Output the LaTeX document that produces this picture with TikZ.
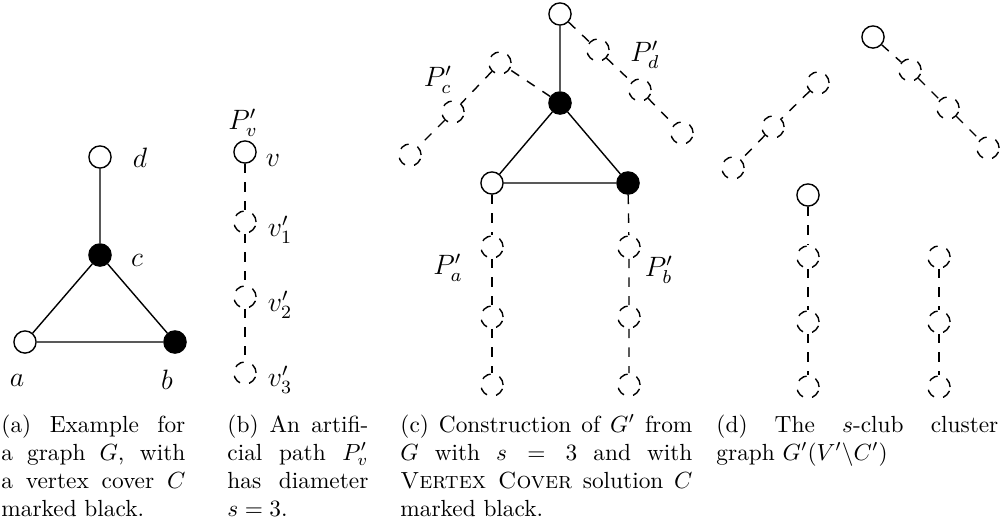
\documentclass[tikz,border=0pt]{standalone}
\usepackage{amsmath}
\usetikzlibrary{positioning}

\tikzset{
  vtx/.style={circle,draw,fill=white,minimum size=9.5pt,inner sep=0pt,line width=0.6pt},
  cov/.style={vtx,fill=black},
  art/.style={vtx,dash pattern=on 4pt off 4pt},
  edg/.style={line width=0.6pt},
  pth/.style={edg,dash pattern=on 4pt off 4pt},
  lbl/.style={font=\large,inner sep=0pt},
  capt/.style={anchor=base west,inner sep=0pt,align=justify}
}

\begin{document}
\begin{tikzpicture}[x=0.4285pt,y=-0.4285pt]
  \useasboundingbox (0,0) rectangle (1000,532);

  % (a) the graph G
  \node[vtx] (d) at (100,157) {};
  \node[cov] (c) at (100,255) {};
  \node[vtx] (a) at (25,342) {};
  \node[cov] (b) at (175,342) {};
  \draw[edg] (d) -- (c) (c) -- (a) -- (b) -- (c);
  \node[lbl] at (140,158) {$d$};
  \node[lbl] at (137,260) {$c$};
  \node[lbl] at (17,380) {$a$};
  \node[lbl] at (167,380) {$b$};

  % (b) artificial path
  \node[vtx] (v) at (245,152) {};
  \node[art] (v1) at (245,222) {};
  \node[art] (v2) at (245,297) {};
  \node[art] (v3) at (245,373) {};
  \draw[pth] (v) -- (v1) -- (v2) -- (v3);
  \node[lbl] at (243,123) {$P'_v$};
  \node[lbl] at (273,160) {$v$};
  \node[lbl] at (280,230) {$v'_1$};
  \node[lbl] at (280,305) {$v'_2$};
  \node[lbl] at (280,380) {$v'_3$};

  % (c) construction of G'
  \node[vtx] (cd) at (560,14) {};
  \node[cov] (cc) at (560,103) {};
  \node[vtx] (ca) at (492,183) {};
  \node[cov] (cb) at (628,183) {};
  \draw[edg] (cd) -- (cc) (cc) -- (ca) -- (cb) -- (cc);
  \foreach \i/\y in {1/247,2/317,3/385} {
    \node[art] (pa\i) at (492,\y) {};
    \node[art] (pb\i) at (629,\y) {};
  }
  \node[art] (pc1) at (500,63) {};
  \node[art] (pc2) at (453,112) {};
  \node[art] (pc3) at (410,155) {};
  \node[art] (pd1) at (598,50) {};
  \node[art] (pd2) at (640,90) {};
  \node[art] (pd3) at (682,133) {};
  \draw[pth] (ca) -- (pa1) -- (pa2) -- (pa3);
  \draw[pth] (cb) -- (pb1) -- (pb2) -- (pb3);
  \draw[pth] (cc) -- (pc1) -- (pc2) -- (pc3);
  \draw[pth] (cd) -- (pd1) -- (pd2) -- (pd3);
  \node[lbl] at (438,80) {$P'_c$};
  \node[lbl] at (645,55) {$P'_d$};
  \node[lbl] at (448,268) {$P'_a$};
  \node[lbl] at (659,270) {$P'_b$};

  % (d) the s-club cluster graph
  \node[vtx] (dd) at (873,37) {};
  \node[art] (dd1) at (910,70) {};
  \node[art] (dd2) at (948,108) {};
  \node[art] (dd3) at (988,148) {};
  \draw[pth] (dd) -- (dd1) -- (dd2) -- (dd3);
  \node[art] (dc1) at (818,83) {};
  \node[art] (dc2) at (773,127) {};
  \node[art] (dc3) at (733,168) {};
  \draw[pth] (dc1) -- (dc2) -- (dc3);
  \node[vtx] (da) at (808,195) {};
  \foreach \i/\y in {1/257,2/322,3/387} {
    \node[art] (da\i) at (808,\y) {};
    \node[art] (db\i) at (939,\y) {};
  }
  \draw[pth] (da) -- (da1) -- (da2) -- (da3);
  \draw[pth] (db1) -- (db2) -- (db3);

  % captions
  \node[capt,text width=78.8pt] (capa) at (1,432)
    {(a) Example for a graph $G$, with a vertex cover $C$ marked black.};
  \node[capt,text width=60.4pt] (capb) at (227,432)
    {(b) An artificial path $P'_v$ has diameter $s=3$.};
  \node[capt,text width=125.1pt] (capc) at (400,432)
    {(c) Construction of $G'$ from $G$ with $s = 3$ and with \textsc{Vertex Cover} solution $C$ marked black.};
  \node[capt,text width=120.8pt] (capd) at (716,432)
    {(d) The $s$-club cluster\linebreak graph $G'(V'\backslash C')$};
\end{tikzpicture}
\end{document}
